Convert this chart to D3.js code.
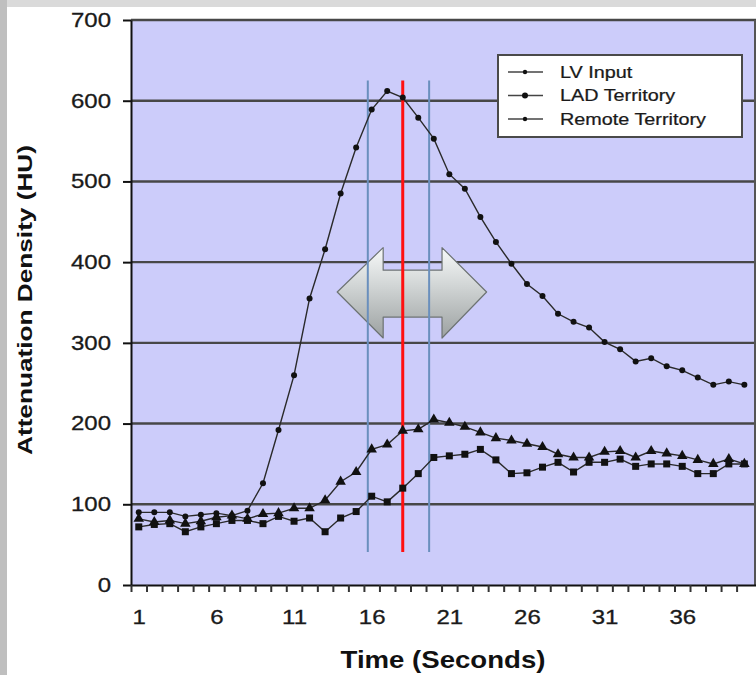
<!DOCTYPE html>
<html>
<head>
<meta charset="utf-8">
<script src="https://cdn.jsdelivr.net/npm/d3@7"></script>
<style>
  body { margin: 0; background: #fff; }
  svg { display: block; font-family: "Liberation Sans", Arial, sans-serif; }
</style>
</head>
<body>
<div id="chart"></div>
<script>
// time points (seconds)
const times = [1,2,3,4,5,6,7,8,9,10,11,12,13,14,15,16,17,18,19,20,
               21,22,23,24,25,26,27,28,29,30,31,32,33,34,35,36,37,38,39,40];
const lvInput = [90,90,90,85,87,89,86,92,126,192,260,355,416,485,542,589,612,604,579,553,
                 509,491,456,425,398,373,358,336,326,319,301,292,277,281,271,266,257,248,252,248];
const ladTerritory = [72,75,76,66,72,76,80,80,76,85,79,83,66,83,91,110,103,120,138,158,
                      160,162,168,155,138,139,146,152,140,152,152,156,147,150,150,147,138,138,150,150];
const remoteTerritory = [82,78,80,76,79,84,86,82,88,89,95,95,105,128,140,168,174,191,193,205,
                         201,196,189,182,179,175,171,162,158,158,165,166,158,166,163,160,155,150,156,150];
const seriesNames = ["LV Input", "LAD Territory", "Remote Territory"];
const yTicks = [0,100,200,300,400,500,600,700];
const xLabels = [1,6,11,16,21,26,31,36];
// measurement window: start, peak, end (seconds)
const windowTimes = [15.75, 18, 19.7];
const windowRange = [41, 625];
// double arrow outline, in (time, HU)
const arrowShape = [[13.78,363],[16.74,418],[16.74,390],[20.53,390],[20.53,418],[23.4,363],
                    [20.53,306],[20.53,332],[16.74,332],[16.74,306]];

const W = 756, H = 675;
const sx = 1.2; // text is drawn a little wide, like the picture

const svg = d3.select("#chart").append("svg").attr("width", W).attr("height", H);

// frame
svg.append("rect").attr("width", W).attr("height", H).attr("fill", "#fff");
svg.append("rect").attr("width", W).attr("height", 7).attr("fill", "#dadada");
svg.append("rect").attr("width", 7).attr("height", H).attr("fill", "#bfbfbf");

const x = d3.scaleLinear().domain([0.5, 40.75]).range([131, 756]);
const y = d3.scaleLinear().domain([0, 700]).range([585, 20]);

// plot area
svg.append("rect")
  .attr("x", x(0.5)).attr("y", y(700))
  .attr("width", x(40.75) - x(0.5)).attr("height", y(0) - y(700))
  .attr("fill", "#ccccfa");

// grid
svg.append("g").selectAll("line")
  .data(yTicks.filter(d => d > 0))
  .join("line")
    .attr("x1", x(0.5)).attr("x2", x(40.75))
    .attr("y1", d => y(d)).attr("y2", d => y(d))
    .attr("stroke", "#474747").attr("stroke-width", 2.4);
svg.append("line")
  .attr("x1", x(40.75) - 1).attr("x2", x(40.75) - 1)
  .attr("y1", y(700)).attr("y2", y(0))
  .attr("stroke", "#555").attr("stroke-width", 2);

// arrow
const defs = svg.append("defs");
const grad = defs.append("linearGradient").attr("id", "arrowGrad")
  .attr("x1", "0%").attr("y1", "0%").attr("x2", "0%").attr("y2", "100%");
grad.append("stop").attr("offset", "0%").attr("stop-color", "#f7f9f9");
grad.append("stop").attr("offset", "40%").attr("stop-color", "#d3d7d7");
grad.append("stop").attr("offset", "100%").attr("stop-color", "#9ca1a1");
svg.append("path")
  .attr("d", d3.line().x(d => x(d[0])).y(d => y(d[1]))(arrowShape) + "Z")
  .attr("fill", "url(#arrowGrad)")
  .attr("stroke", "#6d7373").attr("stroke-width", 1.2)
  .attr("stroke-linejoin", "round");

// window lines
svg.append("g").selectAll("line")
  .data(windowTimes)
  .join("line")
    .attr("x1", d => x(d)).attr("x2", d => x(d))
    .attr("y1", y(windowRange[1])).attr("y2", y(windowRange[0]))
    .attr("stroke", (d, i) => i === 1 ? "#ff1010" : "#6a8fbd")
    .attr("stroke-width", (d, i) => i === 1 ? 3 : 2);

// axes
const yAxis = svg.append("g")
  .attr("transform", `translate(${x(0.5)},0)`)
  .call(d3.axisLeft(y).tickValues(yTicks).tickSize(8).tickPadding(12).tickSizeOuter(0));
yAxis.select(".domain").attr("stroke", "#111").attr("stroke-width", 2);
yAxis.selectAll(".tick line").attr("stroke", "#111").attr("stroke-width", 2);
yAxis.selectAll(".tick text")
  .attr("font-size", 20).attr("fill", "#1a1a1a")
  .attr("font-family", "'Liberation Sans', Arial, sans-serif")
  .attr("stroke", "#1a1a1a").attr("stroke-width", 0.3)
  .attr("x", function() { return +d3.select(this).attr("x") / sx; })
  .attr("transform", `scale(${sx},1)`);

const xAxis = svg.append("g")
  .attr("transform", `translate(0,${y(0)})`)
  .call(d3.axisBottom(x).tickValues(times.map(t => t - 0.5)).tickSize(7).tickFormat("").tickSizeOuter(0));
xAxis.select(".domain").attr("stroke", "#111").attr("stroke-width", 2);
xAxis.selectAll(".tick line").attr("stroke", "#333").attr("stroke-width", 2);

const xLab = svg.append("g")
  .attr("transform", `translate(0,${y(0)})`)
  .call(d3.axisBottom(x).tickValues(xLabels).tickSize(0).tickPadding(25));
xLab.select(".domain").remove();
xLab.selectAll(".tick text")
  .attr("font-size", 20).attr("fill", "#1a1a1a")
  .attr("font-family", "'Liberation Sans', Arial, sans-serif")
  .attr("stroke", "#1a1a1a").attr("stroke-width", 0.3)
  .attr("transform", `scale(${sx},1)`);

// series
const series = [lvInput, ladTerritory, remoteTerritory];
const lineGen = d3.line().x((d, i) => x(times[i])).y(d => y(d));
const triangle = d3.symbol(d3.symbolTriangle, 48);

function drawMarker(sel, k) {
  if (k === 0) {
    sel.append("circle").attr("r", 3).attr("fill", "#111");
  } else if (k === 1) {
    sel.append("rect").attr("x", -3.5).attr("y", -3.5).attr("width", 7).attr("height", 7).attr("fill", "#111");
  } else {
    sel.append("path").attr("d", triangle).attr("fill", "#111");
  }
}

series.forEach((vals, k) => {
  svg.append("path")
    .attr("d", lineGen(vals))
    .attr("fill", "none").attr("stroke", "#2a2a2a").attr("stroke-width", 1.4);
  svg.append("g").selectAll("g")
    .data(vals)
    .join("g")
      .attr("transform", (d, i) => `translate(${x(times[i])},${y(d)})`)
      .each(function() { drawMarker(d3.select(this), k); });
});

// legend
const lg = svg.append("g").attr("transform", "translate(498,55)");
lg.append("rect").attr("width", 244).attr("height", 82)
  .attr("fill", "#fff").attr("stroke", "#4a4a4a").attr("stroke-width", 2);
seriesNames.forEach((name, k) => {
  const row = lg.append("g").attr("transform", `translate(0,${17 + k * 23.5})`);
  row.append("line").attr("x1", 10).attr("x2", 45)
    .attr("stroke", "#444").attr("stroke-width", 1.4);
  row.append("circle").attr("cx", 27).attr("r", k === 1 ? 3 : 2.2).attr("fill", "#111");
  row.append("text")
    .attr("transform", `translate(62,0) scale(${sx},1)`)
    .attr("dy", "0.36em")
    .attr("font-size", 16.5).attr("fill", "#1a1a1a")
    .attr("stroke", "#1a1a1a").attr("stroke-width", 0.25)
    .text(name);
});

// axis titles
svg.append("text")
  .attr("transform", `translate(${443},668) scale(${sx},1)`)
  .attr("text-anchor", "middle")
  .attr("font-size", 23).attr("font-weight", "bold").attr("fill", "#111")
  .text("Time (Seconds)");
svg.append("text")
  .attr("transform", `translate(32,300) rotate(-90)`)
  .attr("text-anchor", "middle")
  .attr("font-size", 21).attr("font-weight", "bold").attr("fill", "#111")
  .attr("textLength", 310).attr("lengthAdjust", "spacingAndGlyphs")
  .text("Attenuation Density (HU)");
</script>
</body>
</html>
